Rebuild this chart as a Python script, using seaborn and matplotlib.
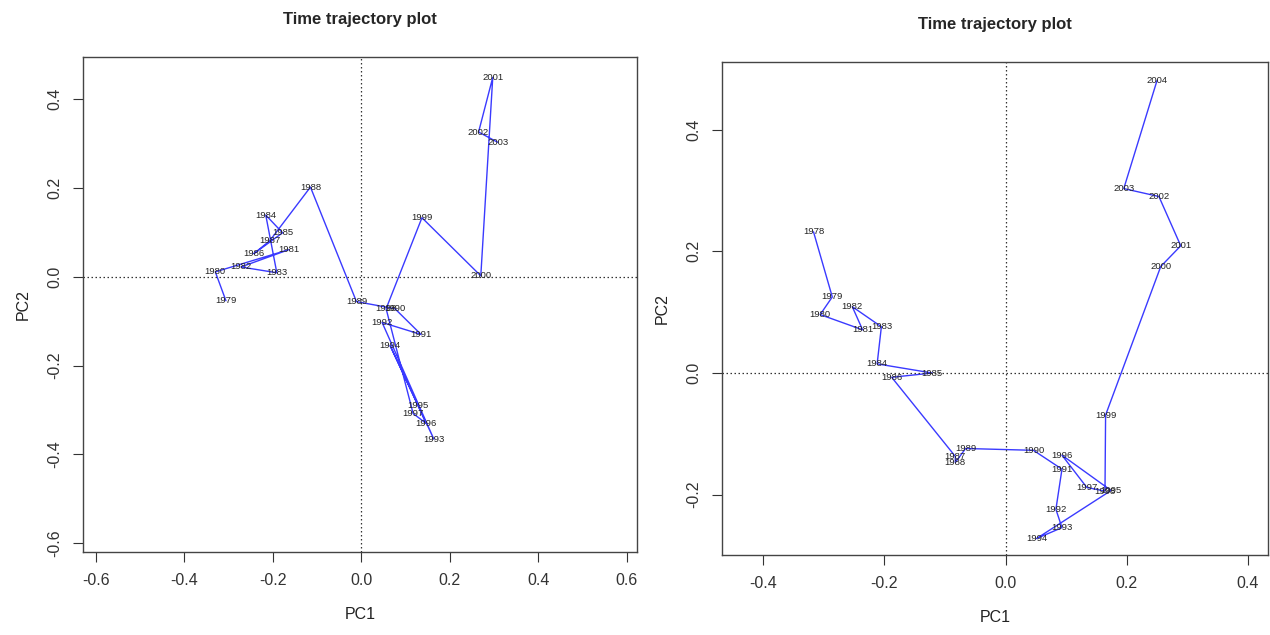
import matplotlib
matplotlib.use("Agg")
import matplotlib.pyplot as plt
import seaborn as sns
import pandas as pd
import numpy as np

sns.set_style("white")
plt.rcParams['font.family'] = ['Liberation Sans', 'DejaVu Sans']

# Left panel data
left_years = list(range(1979, 2004))
left_pc1 = [-0.306, -0.330, -0.164, -0.272, -0.191, -0.216, -0.178, -0.243, -0.207, -0.115,
            -0.011, 0.076, 0.135, 0.047, 0.164, 0.065, 0.128, 0.146, 0.117, 0.056,
            0.137, 0.270, 0.297, 0.265, 0.308]
left_pc2 = [-0.054, 0.011, 0.061, 0.022, 0.009, 0.139, 0.099, 0.052, 0.081, 0.202,
            -0.056, -0.072, -0.130, -0.103, -0.366, -0.155, -0.290, -0.330, -0.308, -0.072,
            0.133, 0.002, 0.449, 0.326, 0.303]

# Right panel data
right_years = list(range(1978, 2005))
right_pc1 = [-0.317, -0.286, -0.306, -0.236, -0.253, -0.205, -0.212, -0.121, -0.188, -0.083,
             -0.083, -0.066, 0.046, 0.093, 0.083, 0.093, 0.051, 0.174, 0.093, 0.134,
             0.164, 0.165, 0.256, 0.289, 0.253, 0.195, 0.250]
right_pc2 = [0.232, 0.125, 0.096, 0.071, 0.109, 0.076, 0.015, 0.000, -0.007, -0.137,
             -0.147, -0.124, -0.127, -0.158, -0.224, -0.254, -0.272, -0.193, -0.135, -0.188,
             -0.194, -0.069, 0.175, 0.209, 0.290, 0.303, 0.481]

fig = plt.figure(figsize=(12.7, 6.35), dpi=100)
W, H = 1270, 635

def add_axes(l, t, r, b):
    return fig.add_axes([l / W, 1 - b / H, (r - l) / W, (b - t) / H])

ax1 = add_axes(83, 57, 637, 552)
ax2 = add_axes(722, 62, 1268, 555)

def draw(ax, years, pc1, pc2, xlim, ylim, xticks, yticks):
    df = pd.DataFrame({"PC1": pc1, "PC2": pc2, "year": years})
    sns.lineplot(data=df, x="PC1", y="PC2", sort=False, estimator=None,
                 color="#3a3aff", linewidth=1.0, ax=ax)
    for _, row in df.iterrows():
        ax.text(row.PC1, row.PC2, str(int(row.year)), fontsize=6.8,
                ha="center", va="center", color="#222222")
    ax.axhline(0, color="#333333", linestyle=(0, (1.2, 2)), linewidth=0.9)
    ax.axvline(0, color="#333333", linestyle=(0, (1.2, 2)), linewidth=0.9)
    ax.set_xlim(*xlim)
    ax.set_ylim(*ylim)
    ax.set_xticks(xticks)
    ax.set_yticks(yticks)
    ax.set_xticklabels([f"{v:.1f}" for v in xticks])
    ax.set_yticklabels([f"{v:.1f}" for v in yticks], rotation=90, va="center")
    ax.tick_params(axis="both", direction="out", length=7, width=0.8,
                   labelsize=11.5, colors="#333333", pad=8, left=True, bottom=True)
    for s in ax.spines.values():
        s.set_color("#444444")
        s.set_linewidth(1.0)
    ax.set_xlabel("PC1", fontsize=11.5, color="#222222", labelpad=14)
    ax.set_ylabel("PC2", fontsize=11.5, color="#222222", labelpad=12)
    ax.set_title("Time trajectory plot", fontsize=12, fontweight="bold", pad=24)

draw(ax1, left_years, left_pc1, left_pc2, (-0.629, 0.623), (-0.62, 0.495),
     [-0.6, -0.4, -0.2, 0.0, 0.2, 0.4, 0.6], [-0.6, -0.4, -0.2, 0.0, 0.2, 0.4])
draw(ax2, right_years, right_pc1, right_pc2, (-0.468, 0.433), (-0.299, 0.511),
     [-0.4, -0.2, 0.0, 0.2, 0.4], [-0.2, 0.0, 0.2, 0.4])

fig.savefig("out.png", dpi=100)
